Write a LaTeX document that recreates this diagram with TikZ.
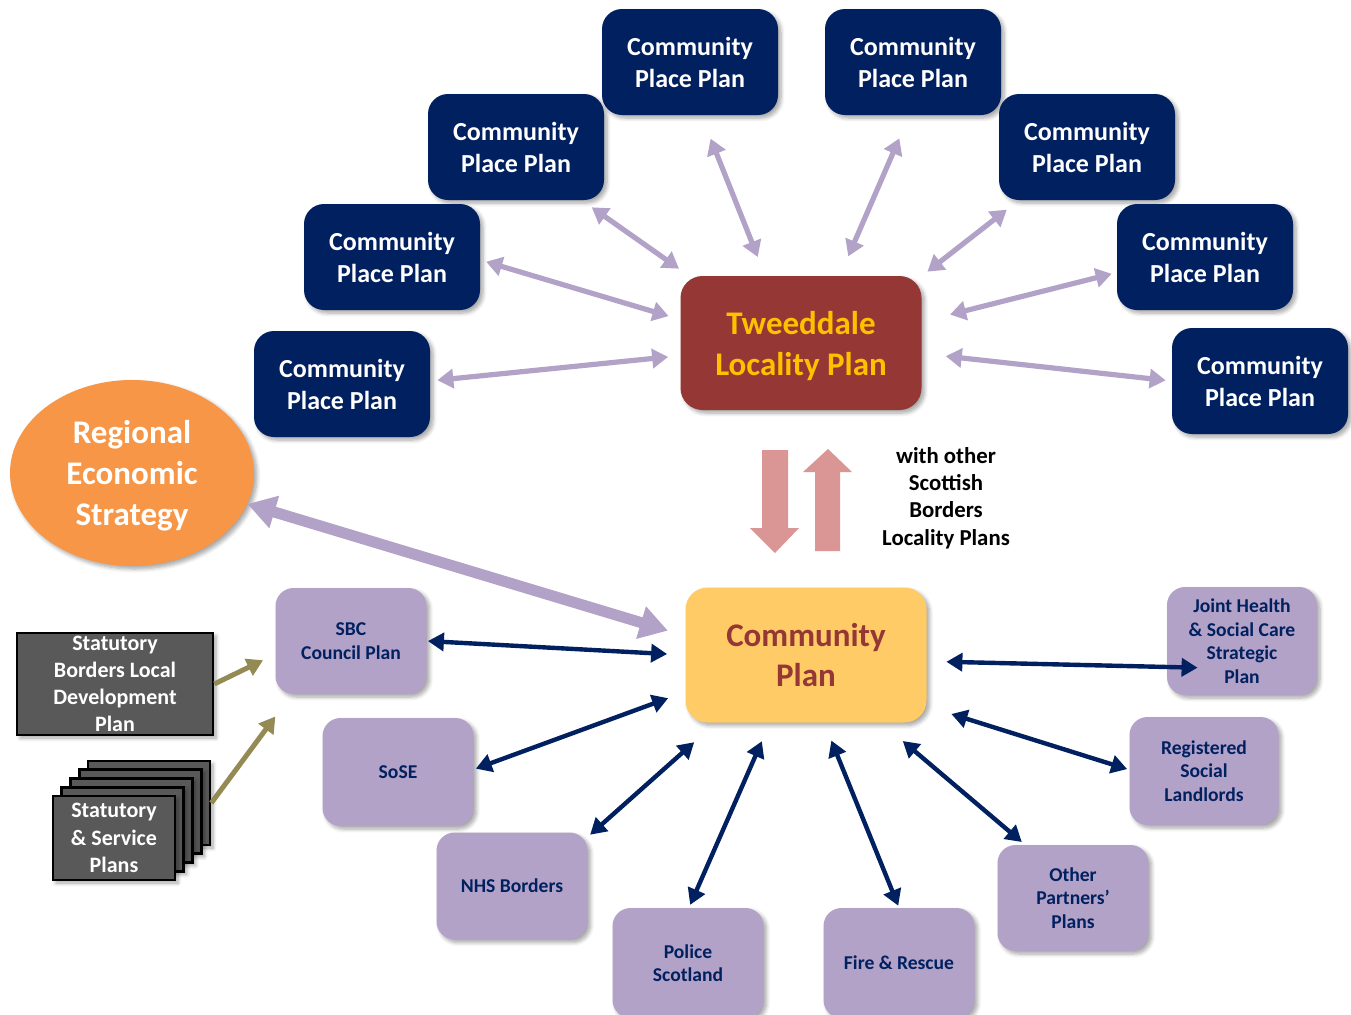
\documentclass[tikz,border=0pt]{standalone}
\usepackage{fontspec}
\setmainfont{Carlito}
\usetikzlibrary{arrows.meta,shapes.geometric,shadows.blur}
\definecolor{navy}{RGB}{0,32,96}
\definecolor{maroon}{RGB}{149,55,53}
\definecolor{gold}{RGB}{255,192,0}
\definecolor{sand}{RGB}{254,203,102}
\definecolor{orange}{RGB}{247,150,70}
\definecolor{lilac}{RGB}{179,162,199}
\definecolor{slate}{RGB}{89,89,89}
\definecolor{olive}{RGB}{148,138,84}
\definecolor{blush}{RGB}{217,150,148}
\tikzset{box/.style={align=center, inner sep=0pt, blur shadow={shadow xshift=1.5pt, shadow yshift=-1.5pt, shadow blur steps=6, shadow opacity=35}}}
\tikzset{place/.style={box, fill=navy, text=white, rounded corners=10pt, minimum width=88pt, minimum height=53pt, font=\fontsize{13}{16}\selectfont\bfseries}}
\tikzset{locality/.style={box, fill=maroon, text=gold, rounded corners=11pt, minimum width=120.5pt, minimum height=67pt, text depth=0pt, font=\fontsize{16.5}{20.5}\selectfont\bfseries}}
\tikzset{core/.style={box, fill=sand, text=maroon, rounded corners=11pt, minimum width=120.5pt, minimum height=67.5pt, font=\fontsize{16.5}{20}\selectfont\bfseries}}
\tikzset{region/.style={box, ellipse, fill=orange, text=white, minimum width=122pt, minimum height=93pt, text depth=0pt, font=\fontsize{16.5}{20.5}\selectfont\bfseries}}
\tikzset{partner/.style={box, fill=lilac, text=navy, rounded corners=9pt, minimum width=75.5pt, minimum height=53pt, font=\fontsize{9.8}{11.8}\selectfont\bfseries}}
\tikzset{grey/.style={box, fill=slate, draw=black, line width=1.3pt, text=white, font=\fontsize{11}{13.6}\selectfont\bfseries}}
\tikzset{lav/.style={draw=lilac, line width=2.6pt, arrows={Triangle[length=8pt,width=9.5pt]-Triangle[length=8pt,width=9.5pt]}}}
\tikzset{big/.style={draw=lilac, line width=5.5pt, arrows={Triangle[length=14pt,width=16pt]-Triangle[length=14pt,width=16pt]}}}
\tikzset{tie/.style={draw=navy, line width=2.2pt, arrows={Triangle[length=8pt,width=9pt]-Triangle[length=8pt,width=9pt]}}}
\tikzset{feed/.style={draw=olive, line width=2.5pt, arrows={-Triangle[length=8pt,width=9pt]}}}

\begin{document}
\begin{tikzpicture}[x=0.5pt,y=-0.5pt]
\useasboundingbox (0,0) rectangle (1351,1014);
% community place plans
\node[place] (p1) at (690,62) {Community\\Place Plan};
\node[place] (p2) at (913,62) {Community\\Place Plan};
\node[place] (p3) at (516,147) {Community\\Place Plan};
\node[place] (p4) at (1087,147) {Community\\Place Plan};
\node[place] (p5) at (392,257) {Community\\Place Plan};
\node[place] (p6) at (1205,257) {Community\\Place Plan};
\node[place] (p7) at (342,384) {Community\\Place Plan};
\node[place] (p8) at (1260,381) {Community\\Place Plan};
\node[locality] (tw) at (801,343) {Tweeddale\\Locality Plan};
\node[region] (res) at (132,473) {Regional\\Economic\\Strategy};
\node[core] (cp) at (806,655) {Community\\Plan};
% partners
\node[partner] (sbc) at (351,641) {SBC\\Council Plan};
\node[partner, minimum height=54pt] (sose) at (398,772) {SoSE};
\node[partner, minimum height=53.5pt] (nhs) at (512,886) {NHS Borders};
\node[partner, minimum height=55pt] (pol) at (688,963) {Police\\Scotland};
\node[partner, minimum height=55pt] (fire) at (899,963) {Fire \& Rescue};
\node[partner] (oth) at (1073,898) {Other\\Partners’\\Plans};
\node[partner, minimum width=74.5pt, minimum height=54pt] (rsl) at (1204,771) {Registered\\Social\\Landlords};
\node[partner, minimum width=75pt, minimum height=54pt] (jhs) at (1242,641) {Joint Health\\\& Social Care\\Strategic\\Plan};
% statutory plans
\node[grey, minimum width=98pt, minimum height=51pt] (ldp) at (115,684) {Statutory\\Borders Local\\Development\\Plan};
\node[grey, minimum width=61pt, minimum height=42pt] (sp4) at (149,803) {};
\node[grey, minimum width=61pt, minimum height=42pt] (sp3) at (140.25,811.75) {};
\node[grey, minimum width=61pt, minimum height=42pt] (sp2) at (131.5,820.5) {};
\node[grey, minimum width=61pt, minimum height=42pt] (sp1) at (122.75,829.25) {};
\node[grey, minimum width=61pt, minimum height=42pt] (sp) at (114,838) {Statutory\\\& Service\\Plans};
% block arrows
\fill[blush] (762,450) -- (788,450) -- (788,528) -- (799,528) -- (775,553) -- (750,528) -- (762,528) -- cycle;
\fill[blush] (815,551) -- (840,551) -- (840,472) -- (852,472) -- (828,449) -- (803,472) -- (815,472) -- cycle;
\node[align=center, font=\fontsize{11.4}{13.7}\selectfont\bfseries] (note) at (946,498) {with other\\Scottish\\Borders\\Locality Plans};
% links to the locality plan
\draw[lav, shorten <=3.5pt, shorten >=6pt] (p7.2) -- (tw.186);
\draw[lav, shorten <=3pt, shorten >=6pt] (p5.358) -- (tw.169);
\draw[lav, shorten <=6pt, shorten >=6pt] (p3.321) -- (tw.149);
\draw[lav, shorten <=12.5pt, shorten >=10pt] (p1.282) -- (tw.118);
\draw[lav, shorten <=12.5pt, shorten >=10.5pt] (p2.266) -- (tw.60);
\draw[lav, shorten <=7.5pt, shorten >=3.5pt] (p4.218) -- (tw.29);
\draw[lav, shorten <=2.5pt, shorten >=14.5pt] (p6.190) -- (tw.10);
\draw[lav, shorten <=3pt, shorten >=12pt] (p8.180) -- (tw.355);
\draw[big, shorten <=9pt] (cp.171) -- (res.345);
% links to the community plan
\draw[tie, shorten <=0.5pt, shorten >=9pt] (sbc.0) -- (cp.180);
\draw[tie, shorten <=1pt, shorten >=9pt] (sose.2) -- (cp.197);
\draw[tie, shorten <=1.5pt, shorten >=14.5pt] (nhs.33) -- (cp.217);
\draw[tie, shorten <=1.5pt, shorten >=10pt] (pol.89) -- (cp.242);
\draw[tie, shorten <=1pt, shorten >=9.5pt] (fire.90) -- (cp.285);
\draw[tie, shorten <=2pt, shorten >=14pt] (oth.132) -- (cp.318);
\draw[tie, shorten <=1pt, shorten >=12.8pt] (rsl.179) -- (cp.337);
\draw[tie, shorten <=9.75pt, shorten >=-15.5pt] (cp.357) -- (jhs.199);
\draw[feed, shorten >=6.7pt] (ldp.east) -- (sbc.190);
\draw[feed, shorten >=13.7pt] (sp4.east) -- (sbc.222);
\end{tikzpicture}
\end{document}
